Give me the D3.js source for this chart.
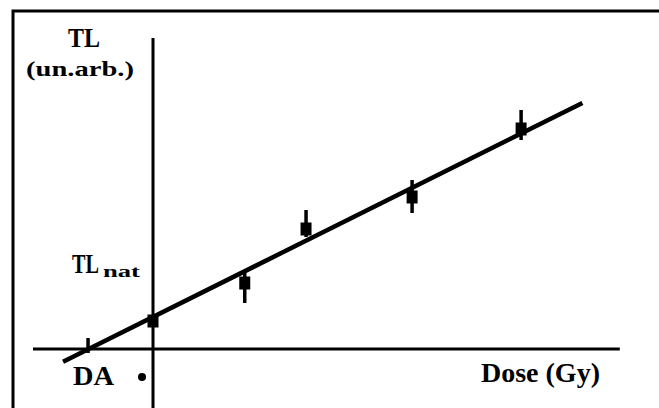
<!DOCTYPE html>
<html>
<head>
<meta charset="utf-8">
<script src="https://cdn.jsdelivr.net/npm/d3@7"></script>
<style>
  html, body { margin: 0; padding: 0; background: #fff; }
  svg { display: block; }
  text { font-family: "Liberation Serif", "DejaVu Serif", "Noto Serif", "Times New Roman", serif; font-weight: bold; fill: #000; }
</style>
</head>
<body>
<script>
// ---- data ----
const doses   = [-1.77, 0, 2.5, 4.17, 7.06, 10.03];        // Dose (Gy), arbitrary reading
const tlVals  = [0, 2.8, 6.6, 12.0, 15.2, 22.0];           // TL (un.arb.)
const errHigh = [1.1, 2.8, 7.9, 13.9, 16.9, 23.9];
const errLow  = [-0.4, 2.8, 4.6, 11.2, 13.6, 20.9];
const showBox = [false, true, true, true, true, true];
const fitDose = [-2.45, 11.7];
const fitTL   = [-1.28, 24.61];
const xAxisExtent = [-3.27, 12.72];
const yAxisExtent = [-6.5, 31.1];
const labels = { yTitle: "TL", yUnit: "(un.arb.)", tlNat: "TL", tlNatSub: "nat", da: "DA", xTitle: "Dose (Gy)" };

const W = 659, H = 408;
const svg = d3.select("body").append("svg").attr("width", W).attr("height", H);
svg.append("rect").attr("width", W).attr("height", H).attr("fill", "#fff");

const x = d3.scaleLinear().domain([0, 10]).range([153, 520]);
const y = d3.scaleLinear().domain([0, 20]).range([349, 149]);

// frame (extends beyond right/bottom edges)
svg.append("path")
  .attr("d", `M13,${H + 5} L13,11 L${W + 5},11`)
  .attr("fill", "none").attr("stroke", "#000").attr("stroke-width", 3);

// axes
svg.append("line")
  .attr("x1", x(xAxisExtent[0])).attr("x2", x(xAxisExtent[1]))
  .attr("y1", y(0)).attr("y2", y(0))
  .attr("stroke", "#000").attr("stroke-width", 3);
svg.append("line")
  .attr("x1", x(0)).attr("x2", x(0))
  .attr("y1", y(yAxisExtent[1])).attr("y2", y(yAxisExtent[0]))
  .attr("stroke", "#000").attr("stroke-width", 3);

// fit line
const line = d3.line().x(d => x(d[0])).y(d => y(d[1]));
svg.append("path")
  .attr("d", line(fitDose.map((d, i) => [d, fitTL[i]])))
  .attr("fill", "none").attr("stroke", "#000").attr("stroke-width", 4.5);

// points with error bars
const pts = doses.map((d, i) => ({ d, v: tlVals[i], hi: errHigh[i], lo: errLow[i], box: showBox[i] }));
const g = svg.append("g");
g.selectAll("line.err").data(pts).join("line")
  .attr("class", "err")
  .attr("x1", p => x(p.d)).attr("x2", p => x(p.d))
  .attr("y1", p => y(p.hi)).attr("y2", p => y(p.lo))
  .attr("stroke", "#000").attr("stroke-width", 3.5);
g.selectAll("rect.box").data(pts.filter(p => p.box)).join("rect")
  .attr("class", "box")
  .attr("x", p => x(p.d) - 5.5).attr("y", p => y(p.v) - 6.5)
  .attr("width", 11).attr("height", 13)
  .attr("fill", "#000");

// text placed with left edge at (lx, by), horizontally scaled to a target width
function fitText(str, lx, by, size, width) {
  const t = svg.append("text").attr("font-size", size).text(str);
  const w = t.node().getComputedTextLength();
  const s = width / w;
  t.attr("transform", `translate(${lx},${by}) scale(${s},1)`);
  return t;
}

fitText(labels.yTitle, 68, 47, 27, 32);
fitText(labels.yUnit, 26, 76, 21, 108);
fitText(labels.tlNat, 72, 273, 27, 27);
fitText(labels.tlNatSub, 103, 277, 17, 37);
fitText(labels.da, 73, 385, 27, 41);
svg.append("circle").attr("cx", 142).attr("cy", 377).attr("r", 4).attr("fill", "#000");
fitText(labels.xTitle, 481, 382, 27, 119);
</script>
</body>
</html>
